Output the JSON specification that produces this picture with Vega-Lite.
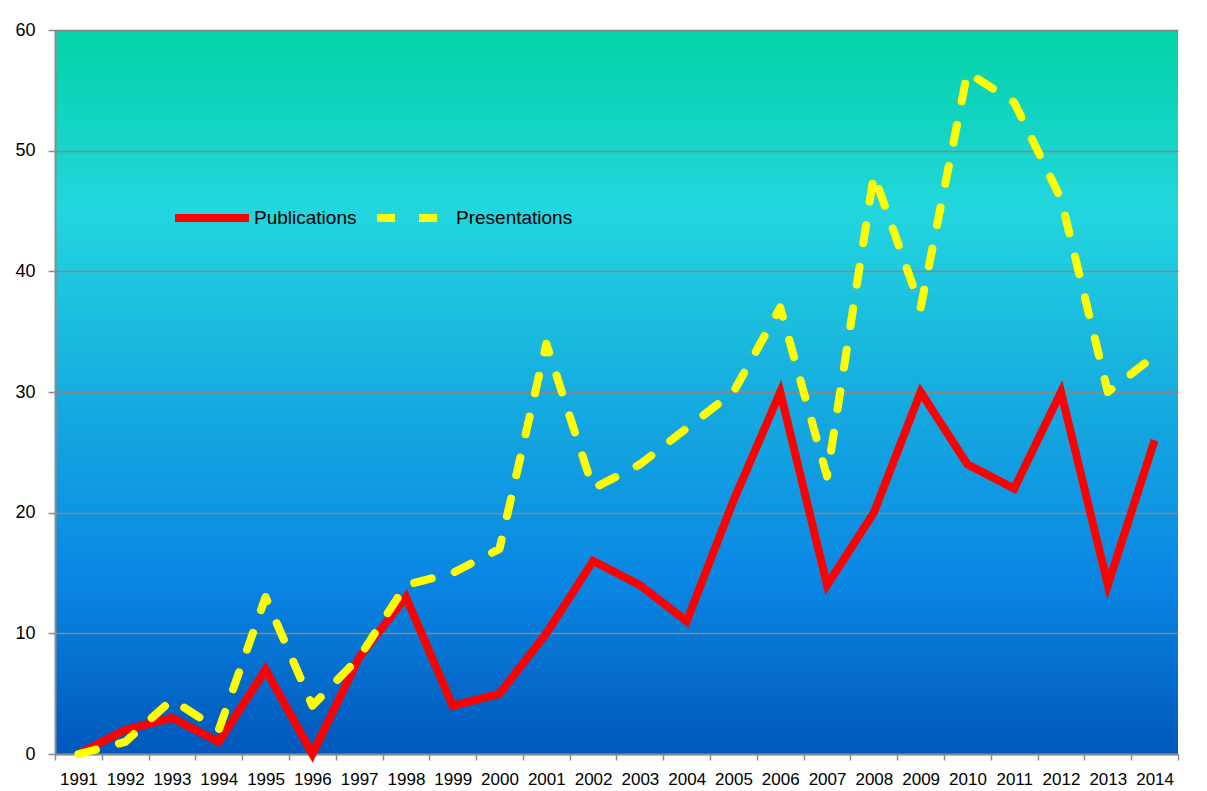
{
  "$schema": "https://vega.github.io/schema/vega-lite/v6.json",
  "width": 1123,
  "height": 724,
  "autosize": {"type": "none"},
  "padding": {"left": 55, "top": 30, "right": 29, "bottom": 37},
  "background": "white",
  "config": {
    "view": {
      "stroke": null,
      "fill": {
        "gradient": "linear",
        "x1": 0, "y1": 0, "x2": 0, "y2": 1,
        "stops": [
          {"offset": 0, "color": "#03d3a6"},
          {"offset": 0.25, "color": "#22d6de"},
          {"offset": 0.5, "color": "#16addf"},
          {"offset": 0.75, "color": "#0a88e4"},
          {"offset": 1, "color": "#0058bb"}
        ]
      }
    },
    "font": "Liberation Sans",
    "axis": {"labelColor": "#000000", "title": null},
    "axisX": {
      "labelAngle": 0, "labelFontSize": 17, "labelPadding": 11,
      "domainColor": "#8c8c8c", "domainWidth": 2,
      "tickColor": "#8c8c8c", "tickWidth": 1.5, "tickSize": 6, "tickBand": "extent",
      "grid": false
    },
    "axisY": {
      "labelFontSize": 18, "labelPadding": 13,
      "domainColor": "#8c8c8c", "domainWidth": 2,
      "tickColor": "#8c8c8c", "tickWidth": 1.5, "tickSize": 7,
      "grid": true, "gridColor": "#878787", "gridWidth": 1.5, "gridOpacity": 1
    },
    "legend": {
      "labelFontSize": 19, "labelColor": "#000000", "labelOffset": 1,
      "columnPadding": 4, "symbolStrokeWidth": 8, "padding": 0
    }
  },
  "datasets": {
    "series": [
      {"year": "1991", "series": "Publications", "value": 0},
      {"year": "1992", "series": "Publications", "value": 2},
      {"year": "1993", "series": "Publications", "value": 3},
      {"year": "1994", "series": "Publications", "value": 1},
      {"year": "1995", "series": "Publications", "value": 7},
      {"year": "1996", "series": "Publications", "value": 0},
      {"year": "1997", "series": "Publications", "value": 8},
      {"year": "1998", "series": "Publications", "value": 13},
      {"year": "1999", "series": "Publications", "value": 4},
      {"year": "2000", "series": "Publications", "value": 5},
      {"year": "2001", "series": "Publications", "value": 10},
      {"year": "2002", "series": "Publications", "value": 16},
      {"year": "2003", "series": "Publications", "value": 14},
      {"year": "2004", "series": "Publications", "value": 11},
      {"year": "2005", "series": "Publications", "value": 21},
      {"year": "2006", "series": "Publications", "value": 30},
      {"year": "2007", "series": "Publications", "value": 14},
      {"year": "2008", "series": "Publications", "value": 20},
      {"year": "2009", "series": "Publications", "value": 30},
      {"year": "2010", "series": "Publications", "value": 24},
      {"year": "2011", "series": "Publications", "value": 22},
      {"year": "2012", "series": "Publications", "value": 30},
      {"year": "2013", "series": "Publications", "value": 14},
      {"year": "2014", "series": "Publications", "value": 26},
      {"year": "1991", "series": "Presentations", "value": 0},
      {"year": "1992", "series": "Presentations", "value": 1},
      {"year": "1993", "series": "Presentations", "value": 4.5},
      {"year": "1994", "series": "Presentations", "value": 2},
      {"year": "1995", "series": "Presentations", "value": 13},
      {"year": "1996", "series": "Presentations", "value": 4},
      {"year": "1997", "series": "Presentations", "value": 8},
      {"year": "1998", "series": "Presentations", "value": 14},
      {"year": "1999", "series": "Presentations", "value": 15},
      {"year": "2000", "series": "Presentations", "value": 17},
      {"year": "2001", "series": "Presentations", "value": 34},
      {"year": "2002", "series": "Presentations", "value": 22},
      {"year": "2003", "series": "Presentations", "value": 24},
      {"year": "2004", "series": "Presentations", "value": 27},
      {"year": "2005", "series": "Presentations", "value": 30},
      {"year": "2006", "series": "Presentations", "value": 37},
      {"year": "2007", "series": "Presentations", "value": 23},
      {"year": "2008", "series": "Presentations", "value": 48},
      {"year": "2009", "series": "Presentations", "value": 37},
      {"year": "2010", "series": "Presentations", "value": 56.5},
      {"year": "2011", "series": "Presentations", "value": 54},
      {"year": "2012", "series": "Presentations", "value": 46},
      {"year": "2013", "series": "Presentations", "value": 30},
      {"year": "2014", "series": "Presentations", "value": 33}
    ]
  },
  "data": {"name": "series"},
  "layer": [
    {
      "transform": [{"filter": "datum.series === 'Publications'"}],
      "mark": {"type": "line", "strokeWidth": 8, "strokeJoin": "miter", "strokeCap": "butt"},
      "encoding": {
        "x": {
          "field": "year", "type": "ordinal", "bandPosition": 0.5,
          "scale": {"type": "band", "paddingInner": 0, "paddingOuter": 0}
        },
        "y": {
          "field": "value", "type": "quantitative",
          "scale": {"domain": [0, 60], "nice": false},
          "axis": {"values": [0, 10, 20, 30, 40, 50, 60]}
        },
        "color": {
          "field": "series", "type": "nominal",
          "scale": {"domain": ["Publications", "Presentations"], "range": ["#ff0000", "#ffff00"]},
          "legend": {
            "title": null, "orient": "none", "direction": "horizontal",
            "legendX": 116, "legendY": 147,
            "symbolType": "stroke", "symbolSize": 5476
          }
        },
        "strokeDash": {
          "field": "series", "type": "nominal",
          "scale": {"domain": ["Publications", "Presentations"], "range": [[1, 0], [18, 24]]},
          "legend": null
        }
      }
    },
    {
      "transform": [{"filter": "datum.series === 'Presentations'"}],
      "mark": {"type": "line", "strokeWidth": 8, "strokeJoin": "round", "strokeCap": "round"},
      "encoding": {
        "x": {"field": "year", "type": "ordinal", "bandPosition": 0.5},
        "y": {"field": "value", "type": "quantitative"},
        "color": {"field": "series", "type": "nominal"},
        "strokeDash": {"field": "series", "type": "nominal"}
      }
    }
  ]
}
